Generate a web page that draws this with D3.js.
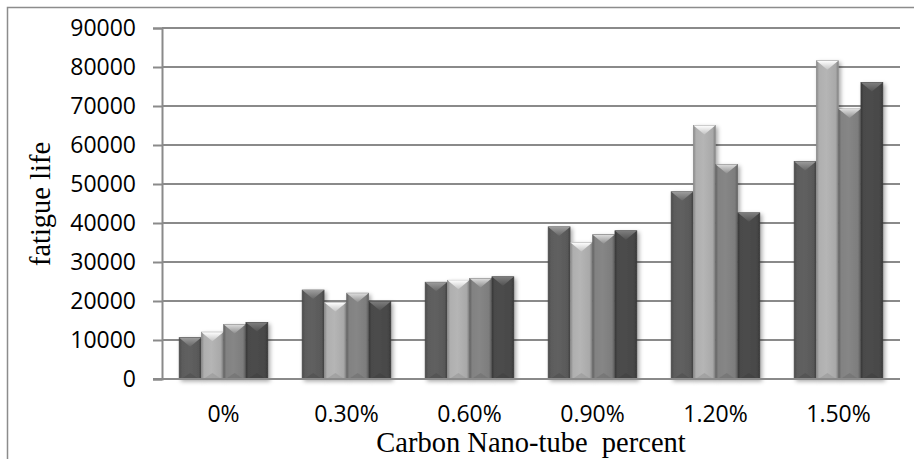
<!DOCTYPE html>
<html>
<head>
<meta charset="utf-8">
<script src="https://d3js.org/d3.v7.min.js"></script>
<style>
  body { margin: 0; background: #fff; }
  text { fill: #000; }
</style>
</head>
<body>
<svg width="914" height="459"></svg>
<script>
var categories = ["0%", "0.30%", "0.60%", "0.90%", "1.20%", "1.50%"];
var series1 = [10600, 22800, 24800, 39000, 48000, 55800];
var series2 = [12000, 19600, 25300, 35000, 65000, 81600];
var series3 = [14000, 22000, 25800, 37000, 55000, 69200];
var series4 = [14500, 19900, 26200, 38000, 42600, 76000];
var yTicks = [0, 10000, 20000, 30000, 40000, 50000, 60000, 70000, 80000, 90000];

var seriesNames = ["s1", "s2", "s3", "s4"];
var seriesValues = [series1, series2, series3, series4];
var seriesColors = ["#595959", "#a9a9a9", "#7d7d7d", "#474747"];

var svg = d3.select("svg"),
    plotLeft = 162, plotRight = 900, plotTop = 28, plotBottom = 379;

// chart frame
svg.append("rect")
    .attr("x", 7.5).attr("y", 7.5)
    .attr("width", 930).attr("height", 480)
    .attr("fill", "#fff")
    .attr("stroke", "#8c8c8c")
    .attr("stroke-width", 1.5);

var defs = svg.append("defs");
seriesColors.forEach(function(c, i) {
  var base = d3.color(c);
  var g = defs.append("linearGradient").attr("id", "grad" + i)
      .attr("x1", "0%").attr("x2", "100%").attr("y1", "0%").attr("y2", "0%");
  g.append("stop").attr("offset", "0%").attr("stop-color", base.darker(0.6));
  g.append("stop").attr("offset", "12%").attr("stop-color", base.brighter(0.1));
  g.append("stop").attr("offset", "45%").attr("stop-color", base.brighter(0.2));
  g.append("stop").attr("offset", "88%").attr("stop-color", base);
  g.append("stop").attr("offset", "100%").attr("stop-color", base.darker(0.7));
  var cap = defs.append("linearGradient").attr("id", "cap" + i)
      .attr("x1", "0%").attr("x2", "0%").attr("y1", "0%").attr("y2", "100%");
  cap.append("stop").attr("offset", "0%").attr("stop-color", base.brighter(1.6));
  cap.append("stop").attr("offset", "100%").attr("stop-color", base.brighter(0.4));
});
var f = defs.append("filter").attr("id", "shadow")
    .attr("x", "-20%").attr("y", "-5%").attr("width", "160%").attr("height", "120%");
f.append("feDropShadow").attr("dx", 2).attr("dy", 2).attr("stdDeviation", 2)
    .attr("flood-color", "#000").attr("flood-opacity", 0.35);

var x0 = d3.scaleBand().domain(categories).range([plotLeft, plotRight]).padding(0);
var x1 = d3.scaleBand().domain(seriesNames)
    .range([x0.bandwidth() * 0.14, x0.bandwidth() * 0.86]).paddingInner(0.02);
var y = d3.scaleLinear().domain([0, 90000]).range([plotBottom, plotTop]);

// gridlines
svg.append("g").selectAll("line")
  .data(yTicks.slice(1))
  .enter().append("line")
    .attr("x1", plotLeft).attr("x2", plotRight)
    .attr("y1", function(d) { return y(d); })
    .attr("y2", function(d) { return y(d); })
    .attr("stroke", "#8a8a8a")
    .attr("stroke-width", 2);

// y axis
var yAxis = svg.append("g")
    .attr("transform", "translate(" + plotLeft + ",0)")
    .call(d3.axisLeft(y).tickValues(yTicks).tickSize(9).tickPadding(17)
      .tickFormat(d3.format("d")));
yAxis.select(".domain").attr("stroke", "#8a8a8a").attr("stroke-width", 2);
yAxis.selectAll(".tick line").attr("stroke", "#8a8a8a").attr("stroke-width", 2);
yAxis.selectAll("text")
    .attr("font-family", "'Open Sans', sans-serif")
    .attr("font-size", 23)
    .attr("fill", "#000");

// bars
var rows = categories.map(function(c, j) {
  return seriesNames.map(function(s, i) {
    return {cat: c, s: s, i: i, v: seriesValues[i][j]};
  });
});

var groups = svg.append("g").selectAll("g")
  .data(rows)
  .enter().append("g")
    .attr("transform", function(d) { return "translate(" + x0(d[0].cat) + ",0)"; });

var bars = groups.selectAll("g")
  .data(function(d) { return d; })
  .enter().append("g");

bars.append("rect")
    .attr("x", function(d) { return x1(d.s); })
    .attr("y", function(d) { return y(d.v); })
    .attr("width", x1.bandwidth())
    .attr("height", function(d) { return y(0) - y(d.v); })
    .attr("fill", function(d) { return "url(#grad" + d.i + ")"; })
    .attr("stroke", function(d) { return d3.color(seriesColors[d.i]).darker(0.5); })
    .attr("stroke-width", 0.8)
    .attr("filter", "url(#shadow)");

// chevron cap on top of each bar
bars.append("path")
    .attr("d", function(d) {
      var xa = x1(d.s), w = x1.bandwidth(), t = y(d.v);
      return "M" + xa + "," + t + "L" + (xa + w) + "," + t +
             "L" + (xa + w / 2) + "," + (t + 9) + "Z";
    })
    .attr("fill", function(d) { return "url(#cap" + d.i + ")"; });

bars.append("path")
    .attr("d", function(d) {
      var xa = x1(d.s), w = x1.bandwidth(), b = y(0);
      return "M" + (xa + 2) + "," + b + "L" + (xa + w - 2) + "," + b +
             "L" + (xa + w / 2) + "," + (b - 6) + "Z";
    })
    .attr("fill", function(d) { return d3.color(seriesColors[d.i]).darker(0.25); })
    .attr("opacity", 0.7);

// x axis baseline
svg.append("line")
    .attr("x1", plotLeft - 9).attr("x2", plotRight)
    .attr("y1", y(0)).attr("y2", y(0))
    .attr("stroke", "#8a8a8a").attr("stroke-width", 2);

// category labels
svg.append("g").selectAll("text")
  .data(categories)
  .enter().append("text")
    .attr("x", function(d) { return x0(d) + x0.bandwidth() / 2; })
    .attr("y", 422)
    .attr("text-anchor", "middle")
    .attr("font-family", "'Open Sans', sans-serif")
    .attr("font-size", 23)
    .text(function(d) { return d; });

// axis titles
svg.append("text")
    .attr("x", 531).attr("y", 452)
    .attr("text-anchor", "middle")
    .attr("font-family", "'Liberation Serif', serif")
    .attr("font-size", 28.5)
    .style("white-space", "pre")
    .text("Carbon Nano-tube  percent");

svg.append("text")
    .attr("transform", "translate(50,204) rotate(-90)")
    .attr("text-anchor", "middle")
    .attr("font-family", "'Liberation Serif', serif")
    .attr("font-size", 28.5)
    .text("fatigue life");
</script>
</body>
</html>
